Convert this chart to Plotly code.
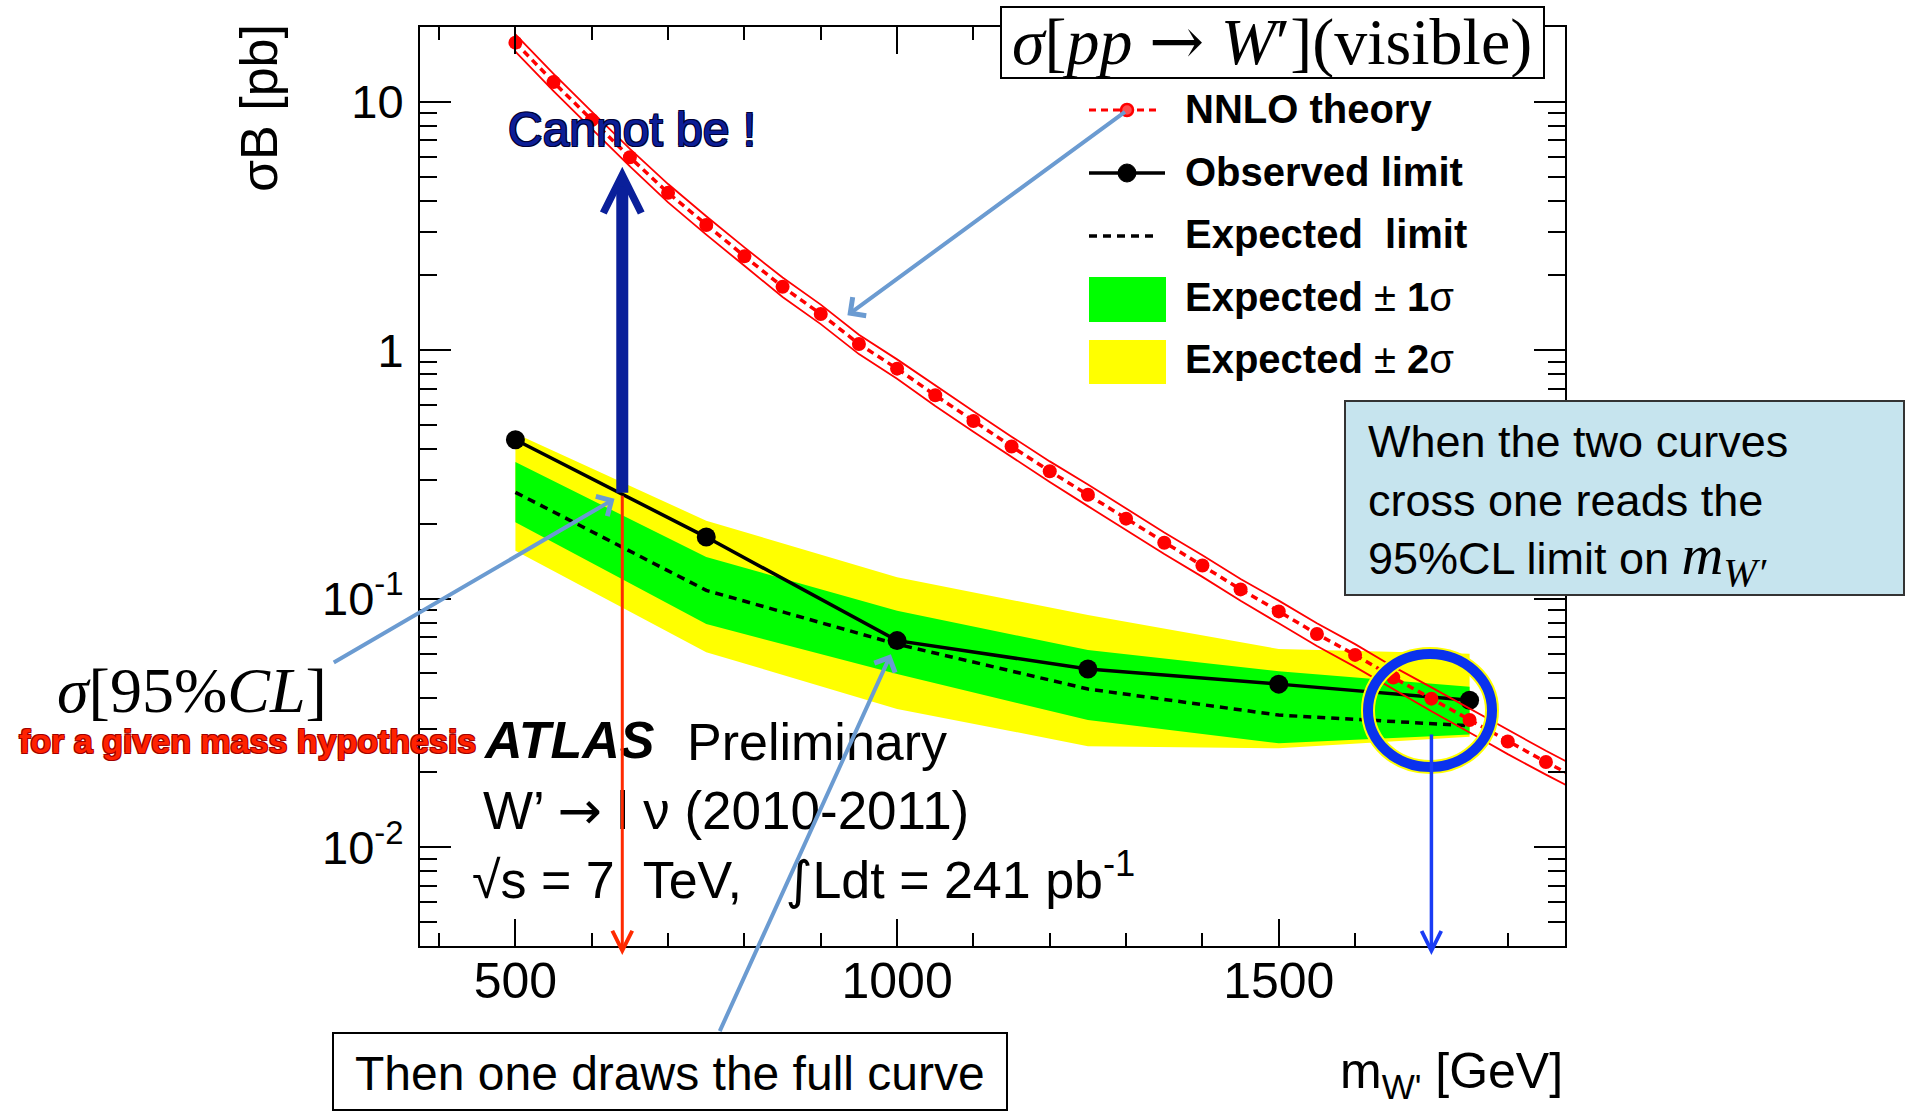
import numpy as np
import plotly.graph_objects as go

# ---------------- data: W' -> l nu cross-section limits (pb) ----------------
MASS = [500, 750, 1000, 1250, 1500, 1750]
OBSERVED = [0.436, 0.177, 0.0678, 0.0521, 0.0453, 0.0390]
EXPECTED = [0.268, 0.108, 0.0656, 0.0433, 0.0340, 0.0308]
EXP_1SIG_UP = [0.355, 0.147, 0.0895, 0.0621, 0.0510, 0.0442]
EXP_1SIG_DN = [0.203, 0.0791, 0.0497, 0.0325, 0.0262, 0.0284]
EXP_2SIG_UP = [0.462, 0.206, 0.122, 0.0859, 0.0627, 0.0600]
EXP_2SIG_DN = [0.156, 0.0609, 0.0360, 0.0255, 0.0250, 0.0278]

THEORY_MASS = [500, 550, 600, 650, 700, 750, 800, 850, 900, 950, 1000, 1050,
               1100, 1150, 1200, 1250, 1300, 1350, 1400, 1450, 1500, 1550,
               1600, 1650, 1700, 1750, 1800, 1850, 1900]
THEORY_XS = [17.3, 12.0, 8.45, 5.98, 4.30, 3.19, 2.39, 1.80, 1.40, 1.06, 0.843,
             0.659, 0.519, 0.410, 0.326, 0.262, 0.210, 0.168, 0.136, 0.109,
             0.0889, 0.0721, 0.0594, 0.0482, 0.0396, 0.0325, 0.0266, 0.0220,
             0.0183]
THEORY_REL_UNC = [0.08, 0.08, 0.08, 0.08, 0.085, 0.085, 0.085, 0.09, 0.09, 0.09,
                  0.09, 0.095, 0.095, 0.095, 0.095, 0.10, 0.10, 0.10, 0.10, 0.10,
                  0.105, 0.105, 0.105, 0.105, 0.11, 0.11, 0.11, 0.11, 0.11]

X_RANGE = [375, 1875]
Y_RANGE = [0.004, 20]
X_TICKS = [500, 1000, 1500]
Y_TICKS = [0.01, 0.1, 1, 10]
Y_TICK_TEXT = ["10<sup>-2</sup>", "10<sup>-1</sup>", "1", "10"]

MASS_HYPOTHESIS = 640      # mass used to illustrate a single-point limit
MASS_LIMIT = 1700          # where observed limit and theory cross
ARROW_START_LIMIT = 0.0288

# ---------------- geometry ----------------
FIG_W, FIG_H = 1910, 1112
M_L, M_R, M_T, M_B = 420, 345, 27, 166
PLOT_W = FIG_W - M_L - M_R
PLOT_H = FIG_H - M_T - M_B


def px_x(p):
    return (p - M_L) / PLOT_W


def px_y(p):
    return (FIG_H - M_B - p) / PLOT_H


def log_interp(m, masses, values):
    return float(np.interp(m, masses, np.log10(values)))


SANS = "Liberation Sans, Arial, Helvetica, sans-serif"
SERIF = "Liberation Serif, Times New Roman, serif"
ARROW_SANS = "<span style='font-family:DejaVu Sans'>→</span>"
ARROW_SERIF = "<span style='font-family:DejaVu Serif'>→</span>"

theory = np.array(THEORY_XS)
unc = np.array(THEORY_REL_UNC)
theory_up = theory * (1 + unc)
theory_dn = theory * (1 - unc)

fig = go.Figure()

# expected bands
fig.add_trace(go.Scatter(
    x=MASS + MASS[::-1], y=EXP_2SIG_UP + EXP_2SIG_DN[::-1],
    mode="lines", fill="toself", fillcolor="#ffff00", line=dict(width=0),
    hoverinfo="skip"))
fig.add_trace(go.Scatter(
    x=MASS + MASS[::-1], y=EXP_1SIG_UP + EXP_1SIG_DN[::-1],
    mode="lines", fill="toself", fillcolor="#00ff00", line=dict(width=0),
    hoverinfo="skip"))
fig.add_trace(go.Scatter(
    x=MASS, y=EXPECTED, mode="lines",
    line=dict(color="black", width=3.5, dash="8px,6px")))
fig.add_trace(go.Scatter(
    x=MASS, y=OBSERVED, mode="lines+markers",
    line=dict(color="black", width=3.5),
    marker=dict(color="black", size=19)))

# NNLO theory with its uncertainty band
for band in (theory_up, theory_dn):
    fig.add_trace(go.Scatter(
        x=THEORY_MASS, y=band, mode="lines",
        line=dict(color="#ff0000", width=1.8)))
fig.add_trace(go.Scatter(
    x=THEORY_MASS, y=THEORY_XS, mode="lines+markers",
    line=dict(color="#ff0000", width=3.5, dash="7px,5px"),
    marker=dict(color="#ff0000", size=14)))

axis_common = dict(
    showgrid=False, zeroline=False, showline=True, linecolor="black",
    linewidth=2, mirror="ticks", ticks="inside", tickcolor="black",
    tickwidth=2,
)

fig.update_xaxes(
    range=X_RANGE, tickvals=X_TICKS, ticklen=27,
    tickfont=dict(family=SANS, size=50, color="black"),
    ticklabelstandoff=-10,
    minor=dict(dtick=100, ticks="inside", ticklen=13, tickwidth=2,
               tickcolor="black"),
    **axis_common)
fig.update_yaxes(
    type="log", range=[np.log10(Y_RANGE[0]), np.log10(Y_RANGE[1])],
    tickvals=Y_TICKS, ticktext=Y_TICK_TEXT, ticklen=31,
    tickfont=dict(family=SANS, size=47, color="black"),
    ticklabelstandoff=5,
    minor=dict(dtick="D1", ticks="inside", ticklen=17, tickwidth=2,
               tickcolor="black"),
    **axis_common)

# ---------------- legend (drawn by hand) ----------------
shapes = []
LEG_X0, LEG_XM = 1089, 1127
shapes.append(dict(type="line", xref="paper", yref="paper",
                   x0=px_x(LEG_X0), x1=px_x(1158), y0=px_y(110), y1=px_y(110),
                   line=dict(color="#ff0000", width=3, dash="7px,5px")))
shapes.append(dict(type="circle", xref="paper", yref="paper",
                   x0=px_x(LEG_XM - 6), x1=px_x(LEG_XM + 6),
                   y0=px_y(116), y1=px_y(104),
                   fillcolor="#ff4d4d", line=dict(color="#ff0000", width=2.5)))
shapes.append(dict(type="line", xref="paper", yref="paper",
                   x0=px_x(LEG_X0), x1=px_x(1165), y0=px_y(173), y1=px_y(173),
                   line=dict(color="black", width=3.5)))
shapes.append(dict(type="circle", xref="paper", yref="paper",
                   x0=px_x(LEG_XM - 9), x1=px_x(LEG_XM + 9),
                   y0=px_y(182), y1=px_y(164),
                   fillcolor="black", line=dict(color="black", width=1)))
shapes.append(dict(type="line", xref="paper", yref="paper",
                   x0=px_x(LEG_X0), x1=px_x(1158), y0=px_y(236), y1=px_y(236),
                   line=dict(color="black", width=3.5, dash="8px,6px")))
shapes.append(dict(type="rect", xref="paper", yref="paper",
                   x0=px_x(LEG_X0), x1=px_x(1166), y0=px_y(322), y1=px_y(277),
                   fillcolor="#00ff00", line=dict(width=0)))
shapes.append(dict(type="rect", xref="paper", yref="paper",
                   x0=px_x(LEG_X0), x1=px_x(1166), y0=px_y(384), y1=px_y(340),
                   fillcolor="#ffff00", line=dict(width=0)))

# boxes
shapes.append(dict(type="rect", xref="paper", yref="paper", layer="above",
                   x0=px_x(1001), x1=px_x(1544), y0=px_y(78), y1=px_y(7),
                   fillcolor="white", line=dict(color="black", width=2)))
shapes.append(dict(type="rect", xref="paper", yref="paper", layer="above",
                   x0=px_x(1345), x1=px_x(1904), y0=px_y(595), y1=px_y(401),
                   fillcolor="#c6e4ee", line=dict(color="#333333", width=2)))
shapes.append(dict(type="rect", xref="paper", yref="paper", layer="above",
                   x0=px_x(333), x1=px_x(1007), y0=px_y(1110), y1=px_y(1033),
                   fillcolor="white", line=dict(color="black", width=2)))

# highlight ring around the crossing point
for col, w in (("#ffff00", 14), ("#0a32ee", 10)):
    shapes.append(dict(type="circle", xref="paper", yref="paper", layer="above",
                       x0=px_x(1368), x1=px_x(1492), y0=px_y(767), y1=px_y(654),
                       line=dict(color=col, width=w)))

fig.update_layout(shapes=shapes)

# ---------------- text & arrows ----------------
def outline(c):
    return f"1px 1px 0 {c}, -1px -1px 0 {c}, 1px -1px 0 {c}, -1px 1px 0 {c}"


def label(x, y, text, size, anchor="left", family=SANS, color="black",
          shadow=None, **extra):
    font = dict(family=family, size=size, color=color)
    if shadow:
        font["shadow"] = shadow
    return dict(x=px_x(x), y=px_y(y), xref="paper", yref="paper", text=text,
                showarrow=False, xanchor=anchor, yanchor="middle", font=font,
                **extra)


ann = []
# legend labels
ann.append(label(1183, 109, "<b>NNLO theory</b>", 40))
ann.append(label(1183, 172, "<b>Observed limit</b>", 40))
ann.append(label(1183, 234, "<b>Expected\u00a0 limit</b>", 40))
ann.append(label(1183, 297, "<b>Expected</b> ± <b>1</b>σ", 40))
ann.append(label(1183, 359, "<b>Expected</b> ± <b>2</b>σ", 40))

# axis titles
ann.append(label(259, 108, "σB [pb]", 52, anchor="center", textangle=-90))
ann.append(label(1565, 1074, "m<sub>W'</sub> [GeV]", 50, anchor="right"))

# title box
ann.append(label(1272, 42,
                 f"<i>σ</i>[<i>pp</i> {ARROW_SERIF} <i>W</i>′](visible)", 66,
                 anchor="center", family=SERIF))

# experiment labels
ann.append(label(481, 740, "<b><i>ATLAS</i></b>", 52))
ann.append(label(685, 742, "Preliminary", 52))
ann.append(label(481, 810, f"W’ {ARROW_SANS} l ν (2010-2011)", 53))
ann.append(label(470, 876,
                 "√s = 7  TeV,   "
                 "<span style='font-family:DejaVu Sans'>∫</span>"
                 "Ldt = 241 pb<sup>-1</sup>", 52))

# explanatory notes
ann.append(label(506, 129, "Cannot be !", 48, color="#0c1e96",
                 shadow=outline("#000033")))
ann.append(label(478, 741, "<b>for a given mass hypothesis</b>", 34,
                 anchor="right", color="#ff2200", shadow=outline("#a00000")))
ann.append(label(192, 690, "<i>σ</i>[95%<i>CL</i>]", 64, anchor="center",
                 family=SERIF))
ann.append(label(670, 1073, "Then one draws the full curve", 48,
                 anchor="center"))
ann.append(label(1366, 505,
                 "When the two curves<br>cross one reads the<br>95%CL limit on "
                 "<span style='font-family:Liberation Serif;font-size:58px'>"
                 "<i>m</i><sub><i>W′</i></sub></span>",
                 45, align="left"))

obs_hyp = log_interp(MASS_HYPOTHESIS, MASS, OBSERVED)
th_hyp = log_interp(MASS_HYPOTHESIS, THEORY_MASS, THEORY_XS)
y_below_axis = np.log10(Y_RANGE[0]) - 0.036

# thick arrow: observed limit up to the theory curve
ann.append(dict(x=MASS_HYPOTHESIS, y=th_hyp, xref="x", yref="y",
                ax=MASS_HYPOTHESIS, ay=obs_hyp, axref="x", ayref="y",
                text="", showarrow=True, arrowhead=5, arrowsize=0.62,
                arrowwidth=12, arrowcolor="#0a1f9a", standoff=17))
# thin red arrow down to the mass axis
ann.append(dict(x=MASS_HYPOTHESIS, y=y_below_axis, xref="x", yref="y",
                ax=MASS_HYPOTHESIS, ay=obs_hyp, axref="x", ayref="y",
                text="", showarrow=True, arrowhead=5, arrowsize=1.3,
                arrowwidth=3, arrowcolor="#ff2a00"))
# blue arrow from the crossing down to the mass axis
ann.append(dict(x=MASS_LIMIT, y=y_below_axis, xref="x", yref="y",
                ax=MASS_LIMIT, ay=np.log10(ARROW_START_LIMIT), axref="x",
                ayref="y", text="", showarrow=True, arrowhead=5,
                arrowsize=1.1, arrowwidth=3.5, arrowcolor="#1a3cf5"))

# light-blue pointer arrows
POINTER = "#6b9bd1"
ann.append(dict(x=918, y=log_interp(918, THEORY_MASS, THEORY_XS),
                xref="x", yref="y", ax=292, ay=-214, text="",
                showarrow=True, arrowhead=4, arrowsize=1.1, arrowwidth=4,
                arrowcolor=POINTER, standoff=16))
ann.append(dict(x=MASS_HYPOTHESIS, y=obs_hyp, xref="x", yref="y",
                ax=-290, ay=169, text="", showarrow=True, arrowhead=4,
                arrowsize=1.1, arrowwidth=4, arrowcolor=POINTER, standoff=9))
ann.append(dict(x=1000, y=log_interp(1000, MASS, OBSERVED), xref="x",
                yref="y", ax=-178, ay=392, text="", showarrow=True,
                arrowhead=4, arrowsize=1.1, arrowwidth=4, arrowcolor=POINTER,
                standoff=15))

fig.update_layout(
    annotations=ann,
    width=FIG_W, height=FIG_H,
    margin=dict(l=M_L, r=M_R, t=M_T, b=M_B, pad=0),
    paper_bgcolor="white", plot_bgcolor="white",
    showlegend=False,
    font=dict(family=SANS, color="black"),
)

fig.write_html("out.html")
